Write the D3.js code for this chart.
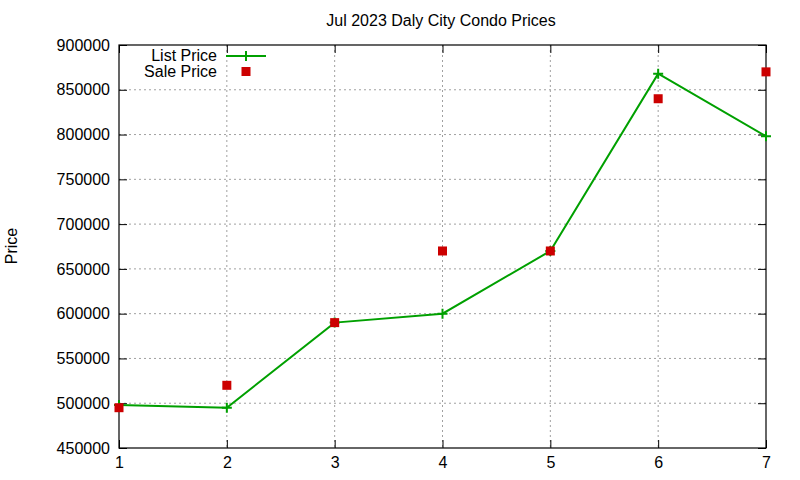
<!DOCTYPE html>
<html><head><meta charset="utf-8">
<script src="https://cdn.jsdelivr.net/npm/d3@7"></script>
<style>body{margin:0;background:#fff}svg{font-family:"Liberation Sans",Arial,sans-serif}</style>
</head><body><svg id="c" width="800" height="480"></svg>
<script>
const months = [1,2,3,4,5,6,7];
const listPrice = [498000,495000,590000,600000,670000,868000,798000];
const salePrice = [495000,520000,590000,670000,670000,840000,870000];
const yTicks = [450000,500000,550000,600000,650000,700000,750000,800000,850000,900000];

const svg = d3.select("#c");
const L=119,R=766,T=45,B=448;
const x = d3.scaleLinear().domain([1,7]).range([L,R]);
const y = d3.scaleLinear().domain([450000,900000]).range([B,T]);

// grid
const g = svg.append("g");
g.selectAll(".gx").data(months.slice(1,-1)).enter().append("line")
 .attr("x1",d=>x(d)).attr("x2",d=>x(d)).attr("y1",T).attr("y2",B)
 .attr("stroke","#a0a0a0").attr("stroke-dasharray","2,3");
g.selectAll(".gy").data(yTicks.slice(1,-1)).enter().append("line")
 .attr("x1",L).attr("x2",R).attr("y1",d=>y(d)).attr("y2",d=>y(d))
 .attr("stroke","#a0a0a0").attr("stroke-dasharray","2,3");

// axes
const ya = svg.append("g").attr("transform",`translate(${L},0)`)
 .call(d3.axisLeft(y).tickValues(yTicks).tickFormat(d3.format("d")).tickSize(-8).tickPadding(9));
const ya2 = svg.append("g").attr("transform",`translate(${R},0)`)
 .call(d3.axisRight(y).tickValues(yTicks).tickFormat("").tickSize(-8));
const xa = svg.append("g").attr("transform",`translate(0,${B})`)
 .call(d3.axisBottom(x).tickValues(months).tickFormat(d3.format("d")).tickSize(-8).tickPadding(6));
const xa2 = svg.append("g").attr("transform",`translate(0,${T})`)
 .call(d3.axisTop(x).tickValues(months).tickFormat("").tickSize(-8));
[ya,ya2,xa,xa2].forEach(a=>{
  a.select(".domain").remove();
  a.selectAll("line").attr("stroke","#000");
  a.selectAll("text").attr("fill","#000").style("font-size","16px").style("font-family","'Liberation Sans',Arial,sans-serif");
});
xa.selectAll("text").attr("dy","0.85em");
svg.append("rect").attr("x",L).attr("y",T).attr("width",R-L).attr("height",B-T)
 .attr("fill","none").attr("stroke","#000").attr("stroke-width",1.2);

// line
const line = d3.line().x((d,i)=>x(months[i])).y(d=>y(d));
svg.append("path").datum(listPrice).attr("d",line).attr("fill","none")
 .attr("stroke","#00a000").attr("stroke-width",2);
const plus = (sel,cx,cy)=>{
  sel.append("path").attr("d",`M${cx-5},${cy}H${cx+5}M${cx},${cy-5}V${cy+5}`)
   .attr("stroke","#00a000").attr("stroke-width",2);
};
listPrice.forEach((v,i)=>plus(svg,x(months[i]),y(v)));

svg.selectAll(".sq").data(salePrice).enter().append("rect")
 .attr("x",(d,i)=>x(months[i])-4.5).attr("y",d=>y(d)-4.5)
 .attr("width",9).attr("height",9).attr("fill","#cc0000");

// legend
const lg = svg.append("g").style("font-size","16px");
lg.append("text").attr("x",217).attr("y",61).attr("text-anchor","end").text("List Price");
lg.append("line").attr("x1",226).attr("x2",266).attr("y1",56).attr("y2",56)
 .attr("stroke","#00a000").attr("stroke-width",2);
plus(lg,246,56);
lg.append("text").attr("x",217).attr("y",77).attr("text-anchor","end").text("Sale Price");
lg.append("rect").attr("x",241.5).attr("y",67).attr("width",9).attr("height",9).attr("fill","#cc0000");

// title & label
svg.append("text").attr("x",441).attr("y",26).attr("text-anchor","middle")
 .style("font-size","16px").text("Jul 2023 Daly City Condo Prices");
svg.append("text").attr("transform","translate(17,246) rotate(-90)").attr("text-anchor","middle")
 .style("font-size","16px").text("Price");
</script></body></html>
